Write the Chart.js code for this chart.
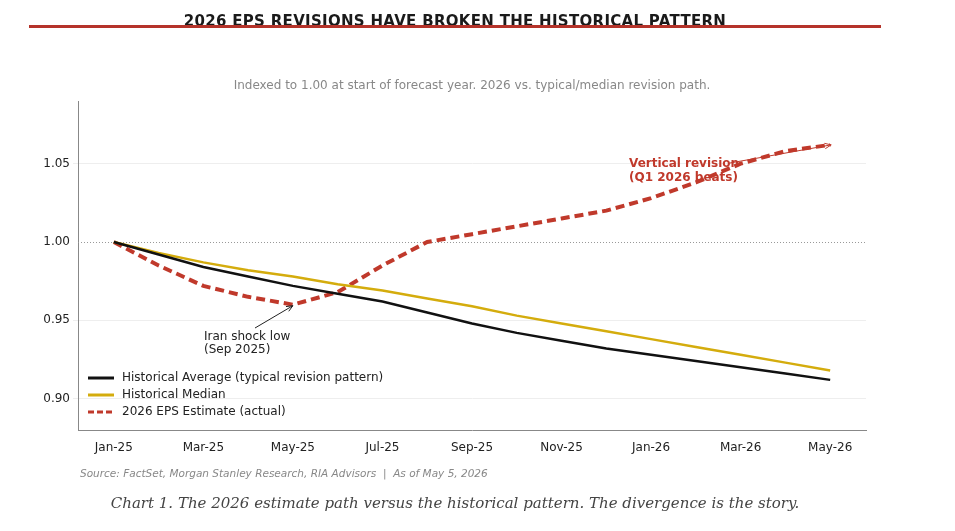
<!DOCTYPE html>
<html>
<head>
<meta charset="utf-8">
<script src="https://cdn.jsdelivr.net/npm/chart.js@4/dist/chart.umd.min.js"></script>
<style>
  body { margin: 0; background: #fff; font-family: "DejaVu Sans", sans-serif; }
  #wrap { position: relative; width: 955px; height: 531px; }
  #chart { position: absolute; left: 0; top: 0; }
  .title { position: absolute; top: 12px; left: 0; width: 910px; text-align: center; font-weight: bold; font-size: 15px; color: #1a1a1a; letter-spacing: 0.3px; }
  .rule { position: absolute; top: 25px; left: 29px; width: 852px; height: 3px; background: #b5332a; }
  .sub { position: absolute; top: 78px; left: 0; width: 944px; text-align: center; font-size: 12px; color: #888; }
  .src { position: absolute; top: 467px; left: 80px; font-size: 10.5px; font-style: italic; color: #888; }
  .cap { position: absolute; top: 494px; left: 0; width: 910px; text-align: center; font-family: "DejaVu Serif", serif; font-style: italic; font-size: 15px; color: #444; }
</style>
</head>
<body>
<div id="wrap">
  <canvas id="chart" width="955" height="531"></canvas>
  <div class="title">2026 EPS REVISIONS HAVE BROKEN THE HISTORICAL PATTERN</div>
  <div class="rule"></div>
  <div class="sub">Indexed to 1.00 at start of forecast year. 2026 vs. typical/median revision path.</div>
  <div class="src">Source: FactSet, Morgan Stanley Research, RIA Advisors &nbsp;|&nbsp; As of May 5, 2026</div>
  <div class="cap">Chart 1. The 2026 estimate path versus the historical pattern. The divergence is the story.</div>
</div>
<script>
// Données
const months = ['Jan-25','Feb-25','Mar-25','Apr-25','May-25','Jun-25','Jul-25','Aug-25','Sep-25',
                'Oct-25','Nov-25','Dec-25','Jan-26','Feb-26','Mar-26','Apr-26','May-26'];
const histAverage = [1.000,0.992,0.984,0.978,0.972,0.967,0.962,0.955,0.948,0.942,0.937,0.932,0.928,0.924,0.920,0.916,0.912];
const histMedian  = [1.000,0.993,0.987,0.982,0.978,0.973,0.969,0.964,0.959,0.953,0.948,0.943,0.938,0.933,0.928,0.923,0.918];
const eps2026     = [1.000,0.985,0.972,0.965,0.960,0.968,0.985,1.000,1.005,1.010,1.015,1.020,1.028,1.038,1.050,1.058,1.062];
const yTicks = [0.90, 0.95, 1.00, 1.05];

const RED = '#c0392b', GOLD = '#d4ac0d', BLACK = '#111';
const pts = arr => arr.map((v, i) => ({ x: i, y: v }));

function arrow(ctx, x1, y1, x2, y2, color) {
    ctx.save();
    ctx.strokeStyle = color; ctx.lineWidth = 1;
    ctx.beginPath(); ctx.moveTo(x1, y1); ctx.lineTo(x2, y2); ctx.stroke();
    const a = Math.atan2(y2 - y1, x2 - x1);
    ctx.beginPath();
    ctx.moveTo(x2 - 7 * Math.cos(a - 0.4), y2 - 7 * Math.sin(a - 0.4));
    ctx.lineTo(x2, y2);
    ctx.lineTo(x2 - 7 * Math.cos(a + 0.4), y2 - 7 * Math.sin(a + 0.4));
    ctx.stroke();
    ctx.restore();
}

const extras = {
    id: 'extras',
    beforeDatasetsDraw(chart) {
        const { ctx, chartArea, scales: { y } } = chart;
        const yy = Math.round(y.getPixelForValue(1.0)) + 0.5;
        ctx.save();
        ctx.strokeStyle = '#999'; ctx.lineWidth = 1; ctx.setLineDash([1, 2]);
        ctx.beginPath(); ctx.moveTo(chartArea.left, yy); ctx.lineTo(chartArea.right, yy); ctx.stroke();
        ctx.restore();
    },
    afterDatasetsDraw(chart) {
        const { ctx, scales: { x, y } } = chart;
        ctx.save();
        ctx.font = '12px "DejaVu Sans"';
        ctx.fillStyle = '#222';
        ctx.fillText('Iran shock low', 204, 340);
        ctx.fillText('(Sep 2025)', 204, 353);
        arrow(ctx, 255, 328, x.getPixelForValue(4), y.getPixelForValue(0.960) + 1, '#222');
        ctx.font = 'bold 12px "DejaVu Sans"';
        ctx.fillStyle = RED;
        ctx.fillText('Vertical revision', 629, 167);
        ctx.fillText('(Q1 2026 beats)', 629, 181);
        arrow(ctx, 730, 163, x.getPixelForValue(16) + 1, y.getPixelForValue(1.062), RED);
        const items = [['Historical Average (typical revision pattern)', BLACK, []],
                       ['Historical Median', GOLD, []],
                       ['2026 EPS Estimate (actual)', RED, [6, 3]]];
        ctx.font = '12px "DejaVu Sans"';
        items.forEach((it, i) => {
            const yy = 378 + i * 17;
            ctx.strokeStyle = it[1]; ctx.lineWidth = 3; ctx.setLineDash(it[2]);
            ctx.beginPath(); ctx.moveTo(88, yy); ctx.lineTo(114, yy); ctx.stroke();
            ctx.setLineDash([]);
            ctx.fillStyle = '#222'; ctx.textBaseline = 'middle';
            ctx.fillText(it[0], 122, yy);
        });
        ctx.restore();
    }
};

new Chart(document.getElementById('chart'), {
    type: 'line',
    data: {
        datasets: [
            { label: 'Historical Average', data: pts(histAverage), borderColor: BLACK, borderWidth: 2.5, pointRadius: 0, tension: 0 },
            { label: 'Historical Median', data: pts(histMedian), borderColor: GOLD, borderWidth: 2.5, pointRadius: 0, tension: 0 },
            { label: '2026 EPS Estimate', data: pts(eps2026), borderColor: RED, borderWidth: 4, borderDash: [9, 5], pointRadius: 0, tension: 0 }
        ]
    },
    options: {
        responsive: false,
        animation: false,
        layout: { padding: { top: 101, right: 89, left: 0, bottom: 0 } },
        plugins: { legend: { display: false }, tooltip: { enabled: false } },
        scales: {
            x: {
                type: 'linear', min: -0.8, max: 16.8,
                afterBuildTicks: s => { s.ticks = months.map((m, i) => ({ value: i })).filter(t => t.value % 2 === 0); },
                grid: { display: false, drawTicks: true },
                border: { color: '#888' },
                ticks: {
                    maxRotation: 0, color: '#222', font: { size: 12, family: 'DejaVu Sans' },
                    callback: v => months[v]
                },
                afterFit: s => { s.height = 101; }
            },
            y: {
                min: 0.88, max: 1.09,
                afterBuildTicks: s => { s.ticks = yTicks.map(v => ({ value: v })); },
                afterFit: s => { s.width = 78; },
                border: { color: '#888' },
                grid: {
                    drawTicks: true, tickLength: 5,
                    color: c => c.tick && Math.abs(c.tick.value - 1) < 1e-6 ? 'rgba(0,0,0,0)' : '#eee',
                    lineWidth: 1
                },
                ticks: { color: '#222', font: { size: 12, family: 'DejaVu Sans' }, callback: v => v.toFixed(2) }
            }
        }
    },
    plugins: [extras]
});
</script>
</body>
</html>
